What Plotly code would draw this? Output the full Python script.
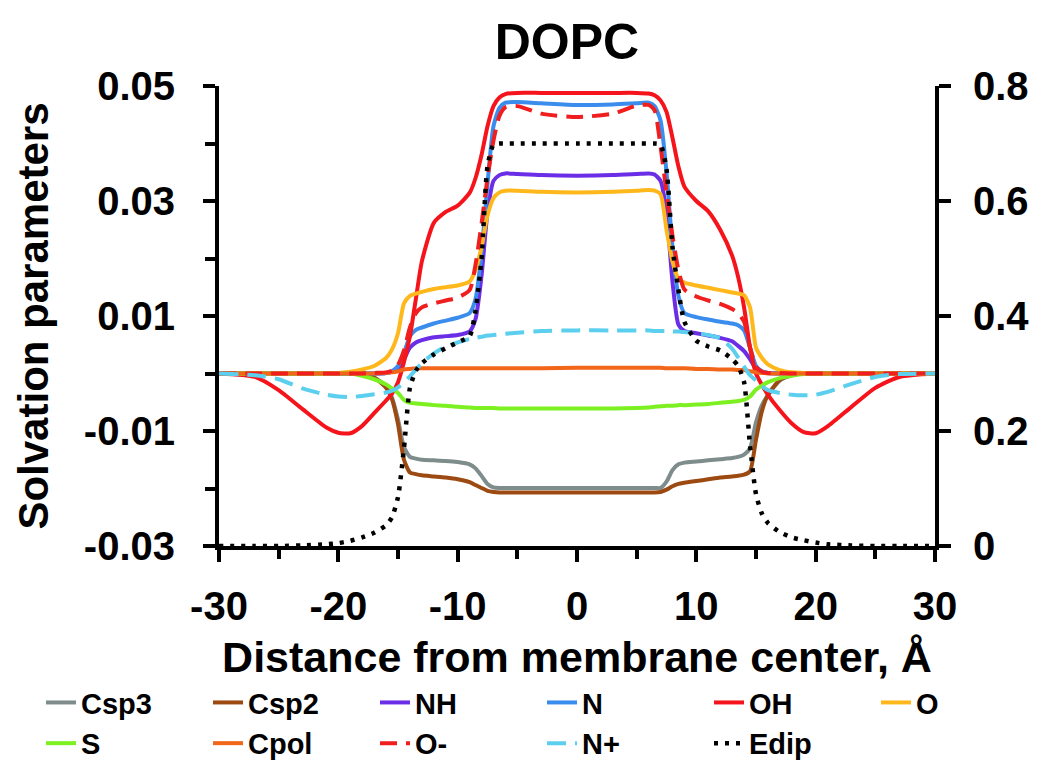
import plotly.graph_objects as go

# Distance from membrane center (Å)
distance = [-30, -27, -25, -23, -21, -20, -19, -18, -17, -16, -15.5, -15, -14.5, -14, -13.5, -13,
            -12, -11, -10, -9, -8.5, -8, -7.5, -7, -6.5, -6, -5, -3, 0,
            3, 5, 6, 6.5, 7, 7.5, 8, 8.5, 9, 10, 11, 12, 13, 13.5, 14, 14.5, 15, 15.5, 16,
            17, 18, 19, 20, 21, 23, 25, 27, 30]

csp3 = [0, 0, 0, 0, 0, 0, 0, -0.0002, -0.0007, -0.0022, -0.0042, -0.0080, -0.0128, -0.0145, -0.0148, -0.0150,
        -0.0151, -0.0152, -0.0154, -0.0158, -0.0165, -0.0178, -0.0192, -0.0198, -0.0199, -0.0199, -0.0199, -0.0199, -0.0199,
        -0.0199, -0.0199, -0.0199, -0.0199, -0.0199, -0.0188, -0.0168, -0.0158, -0.0155, -0.0153, -0.0151, -0.0149, -0.0147,
        -0.0145, -0.0141, -0.0130, -0.0085, -0.0055, -0.0038, -0.0012, -0.0003, 0, 0, 0, 0, 0, 0, 0]

csp2 = [0, 0, 0, 0, 0, 0, 0, -0.0002, -0.0007, -0.0025, -0.0045, -0.0088, -0.0150, -0.0172, -0.0175, -0.0177,
        -0.0179, -0.0181, -0.0184, -0.0189, -0.0194, -0.0199, -0.0204, -0.0206, -0.0207, -0.0207, -0.0207, -0.0207, -0.0207,
        -0.0207, -0.0207, -0.0207, -0.0207, -0.0206, -0.0202, -0.0196, -0.0192, -0.0190, -0.0187, -0.0184, -0.0181, -0.0179,
        -0.0178, -0.0176, -0.0170, -0.0115, -0.0065, -0.0037, -0.0011, -0.0002, 0, 0, 0, 0, 0, 0, 0]

nh = [0, 0, 0, 0, 0, 0, 0, 0, 0, 0.0001, 0.0003, 0.0010, 0.0025, 0.0045, 0.0054, 0.0058,
      0.0063, 0.0065, 0.0067, 0.0073, 0.0095, 0.0170, 0.0280, 0.0335, 0.0345, 0.0348, 0.0347, 0.0345, 0.0344,
      0.0345, 0.0347, 0.0348, 0.0346, 0.0335, 0.0280, 0.0160, 0.0085, 0.0074, 0.0070, 0.0066, 0.0062, 0.0056,
      0.0048, 0.0039, 0.0025, 0.0008, 0.0002, 0.0001, 0, 0, 0, 0, 0, 0, 0, 0]

n = [0, 0, 0, 0, 0, 0, 0, 0, 0, 0.0001, 0.0004, 0.0013, 0.0035, 0.0065, 0.0076, 0.0080,
     0.0087, 0.0092, 0.0097, 0.0105, 0.0130, 0.0210, 0.0330, 0.0430, 0.0462, 0.0471, 0.0472, 0.0470, 0.0467,
     0.0468, 0.0470, 0.0471, 0.0465, 0.0440, 0.0350, 0.0220, 0.0135, 0.0105, 0.0098, 0.0094, 0.0090, 0.0087,
     0.0084, 0.0075, 0.0045, 0.0013, 0.0004, 0.0001, 0, 0, 0, 0, 0, 0, 0, 0]

oh = [0, -0.0006, -0.0029, -0.0062, -0.0094, -0.0103, -0.0104, -0.0091, -0.0069, -0.0047, -0.0035, -0.0015, 0.0020, 0.0065, 0.0130, 0.0195,
      0.0262, 0.0281, 0.0292, 0.0314, 0.0340, 0.0380, 0.0430, 0.0465, 0.0480, 0.0486, 0.0488, 0.0488, 0.0488,
      0.0488, 0.0488, 0.0487, 0.0484, 0.0475, 0.0455, 0.0410, 0.0360, 0.0325, 0.0300, 0.0282, 0.0250, 0.0205,
      0.0168, 0.0115, 0.0045, 0.0000, -0.0020, -0.0037, -0.0064, -0.0087, -0.0102, -0.0104, -0.0092, -0.0058, -0.0025, -0.0006, 0]

o = [0, 0, 0, 0, 0, 0.0001, 0.0003, 0.0007, 0.0013, 0.0027, 0.0042, 0.0070, 0.0122, 0.0135, 0.0139, 0.0142,
     0.0147, 0.0150, 0.0153, 0.0160, 0.0180, 0.0220, 0.0275, 0.0305, 0.0315, 0.0318, 0.0318, 0.0316, 0.0315,
     0.0316, 0.0318, 0.0319, 0.0318, 0.0312, 0.0250, 0.0195, 0.0165, 0.0158, 0.0153, 0.0149, 0.0145, 0.0141,
     0.0139, 0.0136, 0.0115, 0.0045, 0.0027, 0.0016, 0.0006, 0.0002, 0.0001, 0, 0, 0, 0, 0, 0]

s = [0, 0, 0, 0, 0, 0, 0, -0.0004, -0.0010, -0.0019, -0.0026, -0.0034, -0.0046, -0.0051, -0.0052, -0.0053,
     -0.0055, -0.0056, -0.0058, -0.0059, -0.0060, -0.0060, -0.0060, -0.0060, -0.0061, -0.0061, -0.0061, -0.0061, -0.0061,
     -0.0061, -0.0060, -0.0059, -0.0058, -0.0057, -0.0056, -0.0056, -0.0055, -0.0055, -0.0054, -0.0053, -0.0051, -0.0049,
     -0.0048, -0.0046, -0.0040, -0.0028, -0.0021, -0.0015, -0.0008, -0.0004, -0.0001, 0, 0, 0, 0, 0, 0]

cpol = [0, 0, 0, 0, 0, 0, 0, 0, 0, 0.0001, 0.0002, 0.0004, 0.0007, 0.0008, 0.0009, 0.0009,
        0.0009, 0.0009, 0.0009, 0.0009, 0.0009, 0.0009, 0.0009, 0.0009, 0.0009, 0.0009, 0.0009, 0.0009, 0.0010,
        0.0010, 0.0010, 0.0010, 0.0010, 0.0010, 0.0009, 0.0009, 0.0009, 0.0009, 0.0008, 0.0008, 0.0007, 0.0007,
        0.0006, 0.0006, 0.0004, 0.0002, 0.0001, 0, 0, 0, 0, 0, 0, 0, 0, 0, 0]

o_minus = [0, 0, 0, 0, 0, 0, 0, 0, 0.0001, 0.0002, 0.0005, 0.0015, 0.0040, 0.0080, 0.0105, 0.0115,
           0.0122, 0.0127, 0.0132, 0.0145, 0.0190, 0.0260, 0.0340, 0.0405, 0.0448, 0.0463, 0.0465, 0.0452, 0.0446,
           0.0452, 0.0466, 0.0467, 0.0458, 0.0395, 0.0315, 0.0240, 0.0180, 0.0146, 0.0134, 0.0127, 0.0121, 0.0112,
           0.0105, 0.0090, 0.0045, 0.0012, 0.0003, 0.0001, 0.0001, 0, 0, 0, 0, 0, 0, 0, 0]

n_plus = [0, -0.0003, -0.0010, -0.0026, -0.0037, -0.0040, -0.0041, -0.0039, -0.0036, -0.0033, -0.0030, -0.0024, -0.0015, -0.0005, 0.0007, 0.0018,
          0.0035, 0.0047, 0.0054, 0.0060, 0.0062, 0.0064, 0.0066, 0.0067, 0.0068, 0.0069, 0.0071, 0.0074, 0.0075,
          0.0075, 0.0075, 0.0075, 0.0074, 0.0074, 0.0074, 0.0073, 0.0073, 0.0072, 0.0070, 0.0067, 0.0061, 0.0043,
          0.0028, 0.0012, -0.0003, -0.0012, -0.0022, -0.0029, -0.0034, -0.0037, -0.0038, -0.0037, -0.0032, -0.0018, -0.0006, -0.0001, 0]

# Edip is plotted against the right-hand axis
edip = [0, 0, 0, 0.001, 0.003, 0.005, 0.009, 0.015, 0.023, 0.036, 0.050, 0.085, 0.170, 0.275, 0.305, 0.318,
        0.333, 0.344, 0.354, 0.365, 0.410, 0.500, 0.660, 0.698, 0.700, 0.700, 0.700, 0.700, 0.700,
        0.700, 0.700, 0.700, 0.700, 0.698, 0.655, 0.520, 0.445, 0.390, 0.357, 0.347, 0.340, 0.325,
        0.313, 0.285, 0.175, 0.090, 0.056, 0.040, 0.024, 0.015, 0.010, 0.006, 0.003, 0.001, 0, 0, 0]

x_tick_vals = [-30, -20, -10, 0, 10, 20, 30]
x_tick_text = ["-30", "-20", "-10", "0", "10", "20", "30"]
y_tick_vals = [-0.03, -0.01, 0.01, 0.03, 0.05]
y_tick_text = ["-0.03", "-0.01", "0.01", "0.03", "0.05"]
y2_tick_vals = [0, 0.2, 0.4, 0.6, 0.8]
y2_tick_text = ["0", "0.2", "0.4", "0.6", "0.8"]

series = [
    ("Csp3", csp3, "#7E8C8C", "solid"),
    ("Csp2", csp2, "#9C4A12", "solid"),
    ("NH", nh, "#6B2EE6", "solid"),
    ("N", n, "#3B8DED", "solid"),
    ("OH", oh, "#F5141B", "solid"),
    ("O", o, "#FFB81C", "solid"),
    ("S", s, "#7CF021", "solid"),
    ("Cpol", cpol, "#F2661A", "solid"),
    ("O-", o_minus, "#F01E1E", "17px,9px"),
    ("N+", n_plus, "#5CCFEF", "19px,9px"),
]

FONT = "Liberation Sans, Arial, sans-serif"

fig = go.Figure()
for name, vals, color, dash in series:
    fig.add_trace(go.Scatter(
        x=distance, y=vals, name=name, mode="lines",
        line=dict(color=color, width=4, dash=dash, shape="spline", smoothing=0.6),
        yaxis="y",
    ))
fig.add_trace(go.Scatter(
    x=distance, y=edip, name="Edip", mode="lines",
    line=dict(color="black", width=4.5, dash="4px,7px", shape="spline", smoothing=0.6),
    yaxis="y2",
))

axis_common = dict(
    showline=True, linewidth=4, linecolor="black", showgrid=False, zeroline=False,
    ticks="outside", ticklen=12, tickwidth=4, tickcolor="black", automargin=False,
    tickfont=dict(family=FONT, size=40, color="black", weight="bold"),
)

fig.update_layout(
    width=1050, height=774,
    paper_bgcolor="white", plot_bgcolor="white",
    margin=dict(l=219, r=10, t=86, b=228, pad=0, autoexpand=False),
    font=dict(family=FONT, color="black"),
    title=dict(text="DOPC", x=567 / 1050, xref="container", xanchor="center",
               y=1 - 41 / 774, yref="container", yanchor="middle",
               font=dict(family=FONT, size=50, color="black", weight="bold")),
    xaxis=dict(
        range=[-30, 30], domain=[0, 716 / 821],
        tickmode="array", tickvals=x_tick_vals, ticktext=x_tick_text,
        minor=dict(tickvals=[-25, -15, -5, 5, 15, 25], ticks="outside", ticklen=9, tickwidth=4, tickcolor="black"),
        ticklabelstandoff=10,
        title=dict(text="Distance from membrane center, Å", standoff=16,
                   font=dict(family=FONT, size=43, color="black", weight="bold")),
        **axis_common,
    ),
    yaxis=dict(
        range=[-0.03, 0.05],
        tickmode="array", tickvals=y_tick_vals, ticktext=y_tick_text,
        minor=dict(tickvals=[-0.02, 0, 0.02, 0.04], ticks="outside", ticklen=10, tickwidth=4, tickcolor="black"),
        ticklabelstandoff=20,
        title=dict(text="Solvation parameters", standoff=23,
                   font=dict(family=FONT, size=42, color="black", weight="bold")),
        **axis_common,
    ),
    yaxis2=dict(
        range=[0, 0.8], overlaying="y", side="right", anchor="x",
        tickmode="array", tickvals=y2_tick_vals, ticktext=y2_tick_text,
        ticklabelstandoff=14,
        **axis_common,
    ),
    legend=dict(
        orientation="h", x=(41 - 219) / 821, xanchor="left", y=-0.285, yanchor="top",
        entrywidth=122, entrywidthmode="pixels", itemwidth=30,
        font=dict(family=FONT, size=29, color="black", weight="bold"),
        bgcolor="rgba(0,0,0,0)", tracegroupgap=0,
    ),
    showlegend=True,
)

# remove the browser's default 8px body margin so figure pixels map 1:1 to the page
fig.write_html("out.html", config={"displayModeBar": False},
               post_script="document.body.style.margin='0';")
